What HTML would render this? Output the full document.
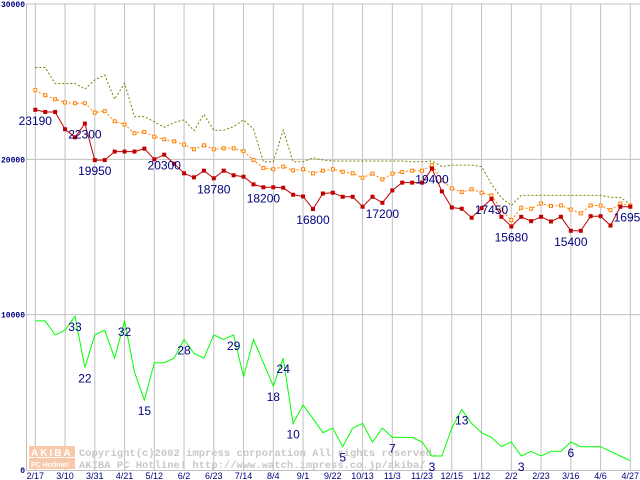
<!DOCTYPE html>
<html><head><meta charset="utf-8"><style>
html,body{margin:0;padding:0;background:#fff;}
svg{display:block;}
</style></head><body>
<svg id="chart" width="640" height="480" viewBox="0 0 640 480" xmlns="http://www.w3.org/2000/svg"></svg>
<script>
const xTickLabels = ["2/17","3/10","3/31","4/21","5/12","6/2","6/23","7/14","8/4","9/1","9/22","10/13","11/3","11/23","12/15","1/12","2/2","2/23","3/16","4/6","4/27"];
const yTickValues = [0,10000,20000,30000];
const minPrice = [23190,23050,23050,21935,21420,22300,19950,19950,20500,20500,20500,20690,20000,20300,19720,19100,18840,19270,18780,19270,18970,18880,18390,18200,18200,18170,17720,17610,16800,17800,17850,17590,17590,16950,17590,17200,18000,18500,18500,18500,19400,17935,16900,16820,16240,16860,17450,16300,15680,16300,16020,16300,16000,16300,15400,15400,16340,16340,15740,16950,16950];
const avgPrice = [24450,24130,23870,23660,23610,23610,23010,23100,22450,22240,21680,21760,21460,21290,21160,20950,20650,20900,20650,20710,20710,20520,19960,19440,19360,19530,19290,19360,19100,19270,19360,19200,19100,18820,19080,18710,19080,19180,19270,19270,19630,18670,18130,17890,18070,17850,17680,16770,16090,16880,16820,17160,16990,17030,16770,16520,17030,17030,16730,17160,17030];
const maxPrice = [25910,25910,24880,24880,24880,24520,25120,25420,23870,24900,22750,22750,22410,22070,22370,22540,21850,22900,21870,21870,22110,22540,21940,19850,19850,21890,19850,19850,20090,19960,19890,19890,19890,19890,19890,19890,19890,19890,19850,19850,19890,19530,19630,19630,19630,19530,18390,17530,17030,17680,17680,17680,17680,17680,17680,17680,17680,17680,17550,17550,17100];
const shopCount = [32,32,29,30,33,22,29,30,24,32,21,15,23,23,24,28,25,24,29,28,29,20,28,23,18,24,10,14,11,8,9,5,9,10,6,9,7,7,7,6,3,3,9,13,10,8,7,5,6,3,4,3,4,4,6,5,5,5,4,3,2];
const priceLabelIdx = [0,5,6,13,18,23,28,35,40,46,48,54,60];
const priceLabelText = ["23190","22300","19950","20300","18780","18200","16800","17200","19400","17450","15680","15400","16950"];
const countLabelIdx = [4,5,9,11,15,20,24,25,26,31,36,40,43,49,54];

const NS="http://www.w3.org/2000/svg";
const svg=document.getElementById('chart');
const X0=35.3, DX=9.917, Y0=470, SY=466/30000;
function xs(i){return X0+i*DX;}
function ys(v){return Y0-v*SY;}
function el(t,a,p){const e=document.createElementNS(NS,t);for(const k in a)e.setAttribute(k,a[k]);(p||svg).appendChild(e);return e;}

// grid
const grid=el('g',{});


yTickValues.forEach(v=>{
  if(v>0){const l=el('line',{x1:26,x2:640,y1:ys(v),y2:ys(v),stroke:'#c0c0c0','stroke-width':1},grid);
  
  }
  const t=el('text',{x:v===0?25:25,y:ys(v)+3,'text-anchor':'end','font-family':'Liberation Mono, monospace','font-size':8,'font-weight':'bold',fill:'#000080'});
  t.textContent=String(v);
  
  
});
el('line',{x1:26.5,x2:26.5,y1:4,y2:470,stroke:'#c0c0c0'},grid);
xTickLabels.forEach((lab,k)=>{
  const x=xs(k*3);
  const l=el('line',{x1:x,x2:x,y1:4,y2:470,stroke:'#c0c0c0'},grid);
  
  
  const t=el('text',{x:x,y:479,'text-anchor':'middle','font-family':'Liberation Sans, sans-serif','font-size':9,fill:'#000080'});
  t.textContent=lab;
  
  
});
el('line',{x1:26,x2:640,y1:470.5,y2:470.5,stroke:'#c0c0c0'},grid);

// watermark
const wm=el('g',{});


el('rect',{x:29,y:446,width:46,height:11,fill:'#f8c8a8'},wm);
el('rect',{x:29,y:458,width:46,height:11,fill:'#f8c8a8'},wm);
const w1=el('text',{x:31,y:456,'font-family':'Liberation Sans, sans-serif','font-size':10,'font-weight':'bold',fill:'#fff','letter-spacing':2},wm);w1.textContent='AKIBA';
const w2=el('text',{x:31,y:467,'font-family':'Liberation Sans, sans-serif','font-size':7,'font-weight':'bold',fill:'#fff'},wm);w2.textContent='PC Hotline!';
const w3=el('text',{x:79,y:456,'font-family':'Liberation Mono, monospace','font-size':10.5,'font-weight':'bold',fill:'#c8c8c8'},wm);w3.textContent='Copyright(c)2002 impress corporation All rights reserved.';
const w4=el('text',{x:79,y:468,'font-family':'Liberation Mono, monospace','font-size':10.5,'font-weight':'bold',fill:'#c8c8c8'},wm);w4.textContent='AKIBA PC Hotline!  http://www.watch.impress.co.jp/akiba/';

function pts(arr,f){return arr.map((v,i)=>xs(i).toFixed(1)+','+f(v).toFixed(1)).join(' ');}
// max
const maxL=el('polyline',{points:pts(maxPrice,ys),fill:'none',stroke:'#808000','stroke-width':1,'stroke-dasharray':'2,2'});


// avg
const avgL=el('polyline',{points:pts(avgPrice,ys),fill:'none',stroke:'#ff8000','stroke-width':1,'stroke-dasharray':'2,2'});


avgPrice.forEach((v,i)=>{const r=el('rect',{x:xs(i)-1.5,y:ys(v)-1.5,width:3,height:3,fill:'#fff',stroke:'#ff8000','stroke-width':1});

});
// green
const cntL=el('polyline',{points:pts(shopCount,c=>ys(c*300)),fill:'none',stroke:'#00ff00','stroke-width':1});


// min
const minL=el('polyline',{points:pts(minPrice,ys),fill:'none',stroke:'#c00000','stroke-width':1});


minPrice.forEach((v,i)=>{const r=el('rect',{x:xs(i)-2,y:ys(v)-2,width:4,height:4,fill:'#c00000'});

});
// labels
priceLabelIdx.forEach((i,k)=>{const t=el('text',{x:xs(i),y:ys(minPrice[i])+15,'text-anchor':'middle','font-family':'Liberation Sans, sans-serif','font-size':12,fill:'#000080'});
t.textContent=priceLabelText[k];

});
countLabelIdx.forEach(i=>{const t=el('text',{x:xs(i),y:ys(shopCount[i]*300)+15,'text-anchor':'middle','font-family':'Liberation Sans, sans-serif','font-size':12,fill:'#000080'});
t.textContent=String(shopCount[i]);

});
</script>
</body></html>
